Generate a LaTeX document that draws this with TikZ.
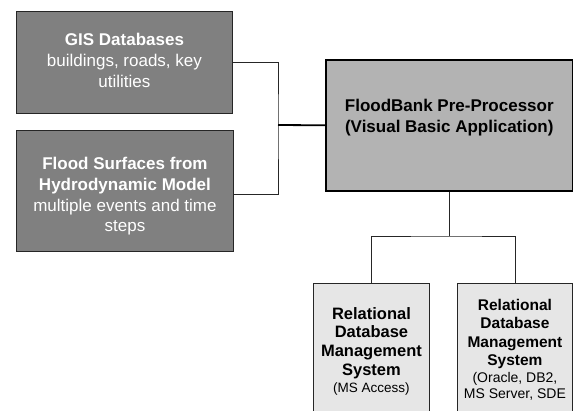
\documentclass[tikz,border=0pt]{standalone}
\usepackage{fontspec}
\setmainfont{Liberation Sans}
\definecolor{darkfill}{RGB}{128,128,128}
\definecolor{midfill}{RGB}{179,179,179}
\definecolor{lightfill}{RGB}{230,230,230}
\definecolor{edgecol}{RGB}{38,38,38}
\newcommand\regA{\fontsize{13.5}{18.7}\selectfont}
\newcommand\regB{\fontsize{14}{18.5}\selectfont}
\begin{document}
\begin{tikzpicture}[x=1pt,y=-1pt,
  box/.style={draw=edgecol,line width=0.9pt,anchor=north west,inner sep=0pt},
  darkbox/.style={box,fill=darkfill},
  midbox/.style={box,fill=midfill,draw=black,line width=1.6pt},
  lightbox/.style={box,fill=lightfill},
  bigtxt/.style={anchor=north,inner sep=0pt,align=center,font=\fontsize{17}{20.8}\selectfont},
  smalltxtA/.style={anchor=north,inner sep=0pt,align=center,font=\fontsize{16.5}{18.7}\selectfont},
  smalltxtB/.style={anchor=north,inner sep=0pt,align=center,font=\fontsize{15.5}{18.5}\selectfont},
  conn/.style={draw=edgecol,line width=0.9pt},
  thickconn/.style={draw=black,line width=1.8pt},
  midconn/.style={draw=edgecol,line width=1.5pt}]
\clip (0,0) rectangle (573,410);
\fill[white] (0,0) rectangle (573,410);
% boxes
\node[darkbox,minimum width=216pt,minimum height=102pt] (gis) at (16,11) {};
\node[darkbox,minimum width=217pt,minimum height=121pt] (flood) at (16,130) {};
\node[midbox,minimum width=247pt,minimum height=131pt] (pre) at (325,59) {};
\node[lightbox,minimum width=116pt,minimum height=160pt] (rdb1) at (313,283) {};
\node[lightbox,minimum width=115pt,minimum height=160pt] (rdb2) at (457,283) {};
% texts
\node[bigtxt,text=white] (gist) at ([yshift=-22pt]gis.north) {\textbf{GIS Databases}\\buildings, roads, key\\utilities};
\node[bigtxt,text=white] (floodt) at ([yshift=-27pt]flood.north) {\textbf{Flood Surfaces from}\\\textbf{Hydrodynamic Model}\\multiple events and time\\steps};
\node[bigtxt,text=black] (pret) at ([yshift=-40pt]pre.north) {\textbf{FloodBank Pre-Processor}\\\textbf{(Visual Basic Application)}};
\node[smalltxtA,text=black] (rdb1t) at ([yshift=-24pt]rdb1.north) {\textbf{Relational}\\\textbf{Database}\\\textbf{Management}\\\textbf{System}\\[-1.7pt]\regA (MS Access)};
\node[smalltxtB,text=black] (rdb2t) at ([yshift=-16pt]rdb2.north) {\textbf{Relational}\\\textbf{Database}\\\textbf{Management}\\\textbf{System}\\[-1.5pt]\regB (Oracle, DB2,\\[-3pt]\regB MS Server, SDE};
% connectors
\coordinate (j) at (278,125);
\draw[conn] (gis.east) -| (j) |- ([yshift=-3.5pt]flood.east);
\draw[thickconn] (j) -- (pre.west);
\coordinate (b) at (pre.south |- 0,236);
\draw[midconn] (pre.south) -- (b);
\draw[conn] (rdb1.north) |- (b) -| (rdb2.north);
\end{tikzpicture}
\end{document}
